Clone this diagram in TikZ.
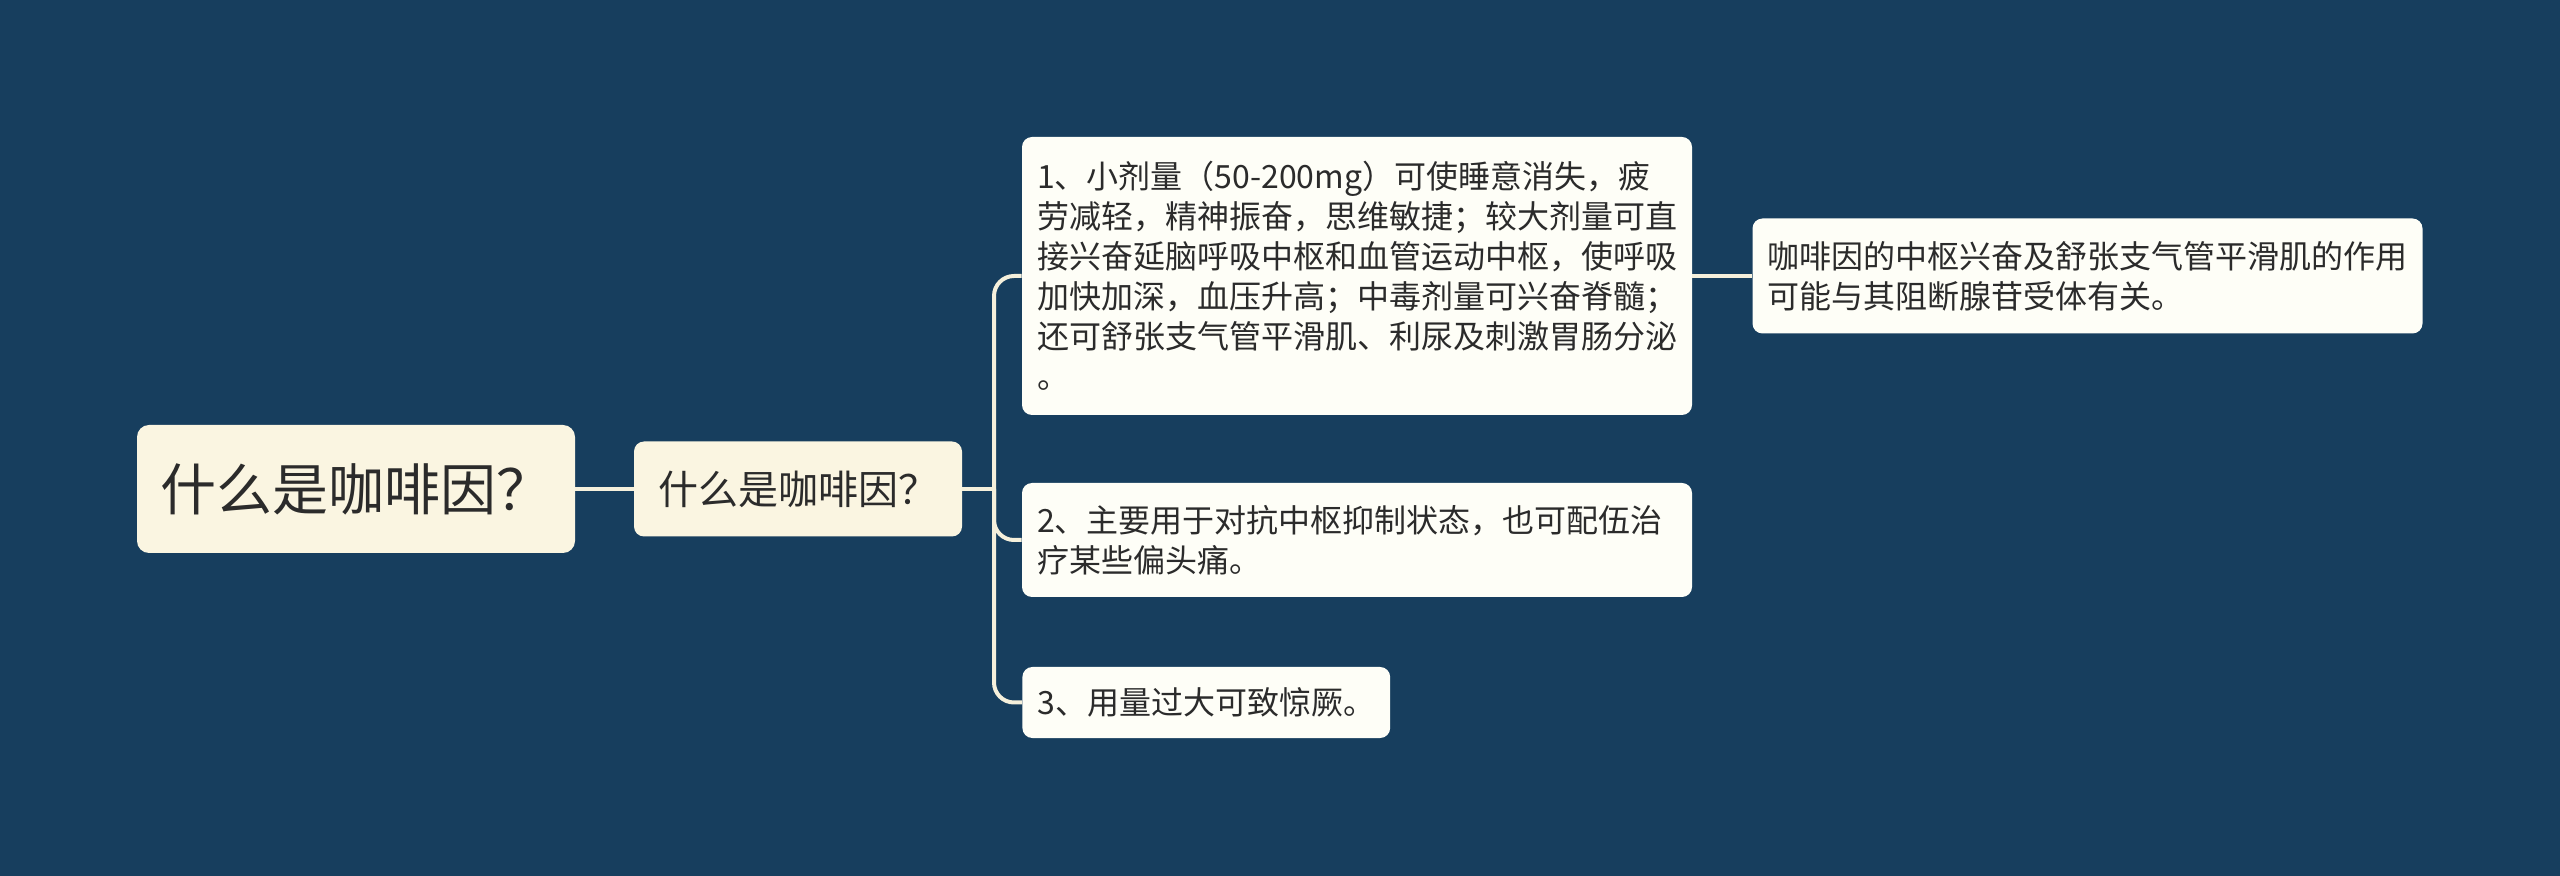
\documentclass[tikz,border=0pt]{standalone}
\usepackage{fontspec}
\setmainfont{Noto Sans CJK SC}
\definecolor{bgc}{HTML}{173E5E}
\definecolor{rootfill}{HTML}{FAF5E1}
\definecolor{childfill}{HTML}{FEFEF7}
\definecolor{linec}{HTML}{F5F0DC}
\definecolor{txt}{HTML}{2B2B2B}
\tikzset{
  rootbox/.style={fill=rootfill, rounded corners=6pt, inner sep=0pt, text=txt,
    minimum width=219pt, minimum height=64pt, font=\fontsize{28pt}{34pt}\selectfont},
  secbox/.style={fill=rootfill, rounded corners=5pt, inner sep=0pt, text=txt,
    minimum width=164pt, minimum height=47.5pt, font=\fontsize{20pt}{24pt}\selectfont},
  childbox/.style={fill=childfill, rounded corners=5pt, inner xsep=7.5pt, inner ysep=0pt,
    text=txt, align=left, font=\fontsize{16pt}{20pt}\selectfont},
  conn/.style={draw=linec, line width=2pt},
}
\begin{document}
\begin{tikzpicture}[x=0.5pt,y=-0.5pt]
\useasboundingbox[fill=bgc] (0,0) rectangle (2560,876);
\node[rootbox] (root) at (356,489) {什么是咖啡因？};
\node[secbox] (sec) at (798,489) {什么是咖啡因？};
\node[childbox, text width=320pt, minimum height=139pt] (c1) at (1357,276)
  {1、小剂量（50-200mg）可使睡意消失，疲\\劳减轻，精神振奋，思维敏捷；较大剂量可直\\接兴奋延脑呼吸中枢和血管运动中枢，使呼吸\\加快加深，血压升高；中毒剂量可兴奋脊髓；\\还可舒张支气管平滑肌、利尿及刺激胃肠分泌\\。};
\node[childbox, text width=320pt, minimum height=57pt] (c2) at (1357,540)
  {2、主要用于对抗中枢抑制状态，也可配伍治\\疗某些偏头痛。};
\node[childbox, minimum height=35.5pt, anchor=west] (c3) at (1022,702.5)
  {3、用量过大可致惊厥。};
\node[childbox, text width=320pt, minimum height=57.5pt] (c4) at (2087.5,276)
  {咖啡因的中枢兴奋及舒张支气管平滑肌的作用\\可能与其阻断腺苷受体有关。};
\coordinate (j) at (994,489);
\draw[conn] (root.east) -- (sec.west);
\draw[conn] (sec.east) -- (j);
\draw[conn, rounded corners=10pt] (j) |- (c1.west);
\draw[conn, rounded corners=10pt] (j) |- (c2.west);
\draw[conn, rounded corners=10pt] (j) |- (c3.west);
\draw[conn] (c1.east) -- (c4.west);
\end{tikzpicture}
\end{document}
